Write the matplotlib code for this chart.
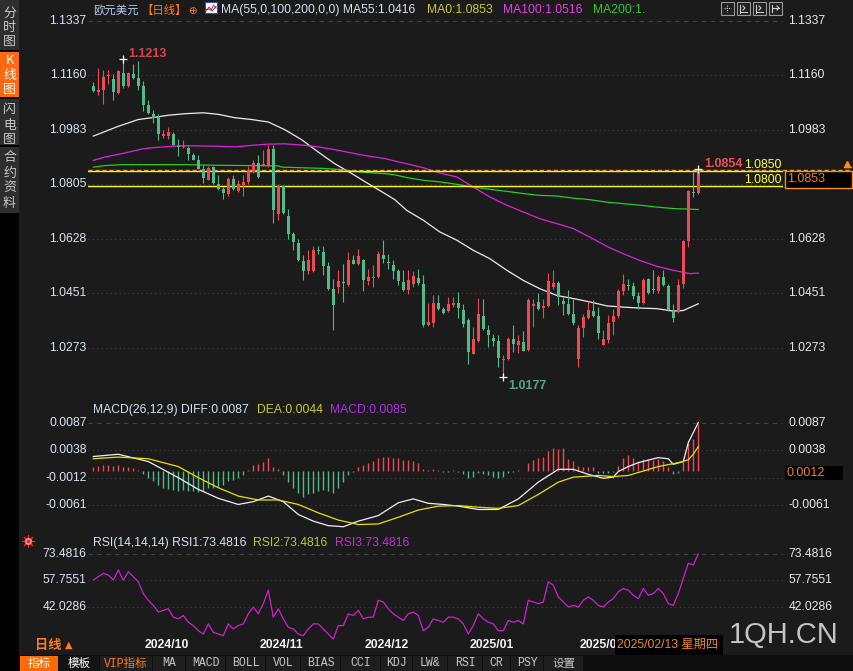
import numpy as np
import matplotlib.pyplot as plt
from matplotlib.patches import Rectangle

plt.rcParams['font.family'] = ['Liberation Sans', 'Noto Sans CJK SC', 'DejaVu Sans']

W, H = 854, 671
BG = '#1b1b1b'
RED = '#ee4a55'
GREEN = '#52b98a'

# ---- daily candles (EUR/USD) ----
opens = [1.1124, 1.1106, 1.1111, 1.1157, 1.1149, 1.1104, 1.1169, 1.1125, 1.1165, 1.1151,
         1.1124, 1.1062, 1.1035, 1.1024, 1.0962, 1.0961, 1.0968, 1.0931, 1.0927, 1.0923,
         1.0902, 1.0883, 1.0854, 1.0820, 1.0861, 1.0807, 1.0789, 1.0772, 1.0822, 1.0783,
         1.0802, 1.0813, 1.0845, 1.0874, 1.0866, 1.0866, 1.0919, 1.0709, 1.0798, 1.0701,
         1.0642, 1.0614, 1.0554, 1.0523, 1.0523, 1.0590, 1.0585, 1.0538, 1.0465, 1.0471,
         1.0487, 1.0476, 1.0557, 1.0544, 1.0560, 1.0490, 1.0501, 1.0503, 1.0576, 1.0552,
         1.0543, 1.0522, 1.0487, 1.0460, 1.0479, 1.0501, 1.0481, 1.0346, 1.0353, 1.0419,
         1.0398, 1.0392, 1.0411, 1.0419, 1.0395, 1.0362, 1.0253, 1.0295, 1.0375, 1.0329,
         1.0305, 1.0294, 1.0234, 1.0237, 1.0300, 1.0281, 1.0291, 1.0266, 1.0409, 1.0422,
         1.0403, 1.0409, 1.0471, 1.0485, 1.0424, 1.0414, 1.0381, 1.0235, 1.0338, 1.0371,
         1.0391, 1.0375, 1.0283, 1.0297, 1.0357, 1.0375, 1.0457, 1.0478, 1.0474, 1.0440,
         1.0418, 1.0495, 1.0463, 1.0457, 1.0503, 1.0473, 1.0389, 1.0389, 1.0479, 1.0619,
         1.0780, 1.0777]
highs = [1.1138, 1.1185, 1.1176, 1.1178, 1.1165, 1.1176, 1.1213, 1.1171, 1.1198, 1.1206,
         1.1140, 1.1079, 1.1046, 1.1035, 1.0983, 1.0992, 1.0975, 1.0952, 1.0948, 1.0929,
         1.0908, 1.0899, 1.0867, 1.0864, 1.0864, 1.0834, 1.0796, 1.0829, 1.0836, 1.0818,
         1.0834, 1.0864, 1.0883, 1.0902, 1.0916, 1.0932, 1.0932, 1.0807, 1.0802, 1.0726,
         1.0650, 1.0628, 1.0574, 1.0590, 1.0603, 1.0603, 1.0603, 1.0552, 1.0498, 1.0525,
         1.0544, 1.0585, 1.0574, 1.0593, 1.0563, 1.0530, 1.0541, 1.0588, 1.0625, 1.0579,
         1.0557, 1.0530, 1.0527, 1.0525, 1.0523, 1.0530, 1.0509, 1.0418, 1.0443, 1.0443,
         1.0405, 1.0438, 1.0438, 1.0454, 1.0416, 1.0370, 1.0340, 1.0436, 1.0433, 1.0346,
         1.0318, 1.0313, 1.0248, 1.0308, 1.0348, 1.0315, 1.0326, 1.0436, 1.0433, 1.0452,
         1.0433, 1.0517, 1.0527, 1.0489, 1.0438, 1.0462, 1.0433, 1.0346, 1.0381, 1.0424,
         1.0427, 1.0405, 1.0329, 1.0378, 1.0400, 1.0465, 1.0512, 1.0498, 1.0487, 1.0454,
         1.0500, 1.0500, 1.0525, 1.0511, 1.0525, 1.0481, 1.0416, 1.0498, 1.0625, 1.0788,
         1.0845, 1.0854]
lows = [1.1107, 1.1095, 1.1068, 1.1133, 1.1079, 1.1100, 1.1120, 1.1122, 1.1149, 1.1111,
        1.1043, 1.1033, 1.1005, 1.0950, 1.0956, 1.0952, 1.0932, 1.0897, 1.0923, 1.0885,
        1.0883, 1.0854, 1.0809, 1.0818, 1.0807, 1.0788, 1.0757, 1.0766, 1.0788, 1.0780,
        1.0767, 1.0807, 1.0842, 1.0827, 1.0864, 1.0861, 1.0679, 1.0690, 1.0709, 1.0628,
        1.0590, 1.0555, 1.0492, 1.0514, 1.0519, 1.0579, 1.0509, 1.0460, 1.0329, 1.0452,
        1.0422, 1.0473, 1.0544, 1.0541, 1.0457, 1.0476, 1.0471, 1.0501, 1.0549, 1.0530,
        1.0498, 1.0476, 1.0457, 1.0449, 1.0471, 1.0476, 1.0340, 1.0342, 1.0340, 1.0395,
        1.0381, 1.0389, 1.0405, 1.0371, 1.0340, 1.0221, 1.0251, 1.0291, 1.0332, 1.0275,
        1.0277, 1.0210, 1.0177, 1.0234, 1.0259, 1.0257, 1.0261, 1.0262, 1.0340, 1.0397,
        1.0370, 1.0405, 1.0465, 1.0411, 1.0378, 1.0378, 1.0346, 1.0210, 1.0308, 1.0367,
        1.0373, 1.0300, 1.0281, 1.0288, 1.0313, 1.0371, 1.0443, 1.0460, 1.0433, 1.0400,
        1.0416, 1.0449, 1.0452, 1.0452, 1.0473, 1.0392, 1.0357, 1.0386, 1.0468, 1.0601,
        1.0764, 1.0775]
closes = [1.1109, 1.1111, 1.1155, 1.1160, 1.1106, 1.1173, 1.1125, 1.1169, 1.1151, 1.1126,
          1.1064, 1.1037, 1.1022, 1.0970, 1.0968, 1.0974, 1.0934, 1.0927, 1.0931, 1.0905,
          1.0885, 1.0856, 1.0826, 1.0859, 1.0809, 1.0790, 1.0777, 1.0822, 1.0790, 1.0805,
          1.0813, 1.0851, 1.0876, 1.0829, 1.0872, 1.0921, 1.0722, 1.0798, 1.0712, 1.0644,
          1.0617, 1.0557, 1.0523, 1.0560, 1.0590, 1.0587, 1.0538, 1.0465, 1.0411, 1.0490,
          1.0484, 1.0557, 1.0547, 1.0570, 1.0492, 1.0503, 1.0503, 1.0579, 1.0561, 1.0549,
          1.0523, 1.0490, 1.0460, 1.0494, 1.0505, 1.0484, 1.0346, 1.0357, 1.0419, 1.0398,
          1.0387, 1.0414, 1.0418, 1.0402, 1.0349, 1.0259, 1.0302, 1.0381, 1.0335, 1.0313,
          1.0295, 1.0240, 1.0237, 1.0300, 1.0284, 1.0294, 1.0262, 1.0427, 1.0416, 1.0400,
          1.0409, 1.0490, 1.0485, 1.0438, 1.0414, 1.0381, 1.0353, 1.0337, 1.0373, 1.0395,
          1.0375, 1.0321, 1.0300, 1.0354, 1.0375, 1.0457, 1.0481, 1.0474, 1.0441, 1.0418,
          1.0494, 1.0452, 1.0460, 1.0503, 1.0476, 1.0397, 1.0371, 1.0476, 1.0619, 1.0782,
          1.0777, 1.0853]

# ---- moving averages (read at key candles) ----
ma55_idx = [0, 5, 9, 11.7, 15, 18.3, 22, 25, 28.3, 31.7, 35, 38.3, 41.7, 45, 48.3, 51.7, 55,
            58.3, 60.3, 62.7, 66, 69.3, 72.7, 76, 79.3, 82.7, 86, 89.3, 92.7, 96, 99.3,
            102.7, 106, 109.3, 112.7, 116, 118, 121]
ma55_val = [1.0962, 1.0994, 1.1016, 1.1022, 1.1030, 1.1035, 1.1038, 1.1033, 1.1022, 1.1016,
            1.1008, 1.0983, 1.0950, 1.0910, 1.0872, 1.0840, 1.0807, 1.0775, 1.0755, 1.0720,
            1.0688, 1.0650, 1.0623, 1.0590, 1.0563, 1.0525, 1.0492, 1.0465, 1.0443, 1.0433,
            1.0422, 1.0409, 1.0405, 1.0402, 1.0400, 1.0392, 1.0394, 1.0416]
ma100_idx = [0, 2.3, 6.3, 9.7, 11.7, 15.7, 18.3, 25, 28.3, 31.7, 35, 38.3, 41.7, 45, 48.3,
             51.7, 55, 58.3, 60.3, 62.7, 66, 69.3, 72.7, 76, 79.3, 82.7, 86, 89.3, 92.7, 96,
             99.3, 102.7, 106, 109.3, 112.7, 116, 119.3, 121]
ma100_val = [1.0883, 1.0894, 1.0907, 1.0920, 1.0924, 1.0929, 1.0931, 1.0929, 1.0927, 1.0932,
             1.0936, 1.0937, 1.0933, 1.0927, 1.0918, 1.0907, 1.0897, 1.0889, 1.0881, 1.0872,
             1.0859, 1.0842, 1.0829, 1.0796, 1.0764, 1.0737, 1.0715, 1.0693, 1.0677, 1.0661,
             1.0633, 1.0603, 1.0579, 1.0557, 1.0538, 1.0525, 1.0514, 1.0516]
ma200_idx = [0, 2.3, 5.7, 18.3, 25, 31.7, 37, 37.7, 41.7, 45.7, 49.7, 51.7, 55, 58.3, 60.3,
             62.7, 66, 69.3, 72.7, 76, 79.3, 82.7, 86, 89.3, 92.7, 96, 99.3, 102.7, 106,
             109.3, 112.7, 116, 121]
ma200_val = [1.0861, 1.0866, 1.0869, 1.0869, 1.0867, 1.0866, 1.0865, 1.0861, 1.0859, 1.0857,
             1.0853, 1.0848, 1.0843, 1.0840, 1.0836, 1.0827, 1.0818, 1.0813, 1.0805, 1.0796,
             1.0789, 1.0782, 1.0775, 1.0769, 1.0767, 1.0760, 1.0755, 1.0747, 1.0742, 1.0737,
             1.0731, 1.0726, 1.0723]

price_ticks = [1.1337, 1.1160, 1.0983, 1.0805, 1.0628, 1.0451, 1.0273]
level_lines = [1.0850, 1.0800]

# ---- MACD(26,12,9) ----
diff_idx = [0, 5, 11, 17, 21, 25, 29, 32, 35, 38, 41, 44, 47, 50, 53, 57, 61, 64, 67, 70, 73,
            77, 81, 85, 89, 93, 96, 99, 102, 104, 105, 107, 109, 113, 115, 116, 118, 119, 121]
diff_val = [0.0026, 0.0030, 0.0017, -0.0012, -0.0033, -0.0049, -0.0060, -0.0055, -0.0045,
            -0.0055, -0.0078, -0.0090, -0.0098, -0.0100, -0.0090, -0.0080, -0.0057, -0.0050,
            -0.0058, -0.0060, -0.0063, -0.0069, -0.0069, -0.0050, -0.0020, 0.0003, 0.0003,
            -0.0006, -0.0013, -0.0011, -0.0001, 0.0008, 0.0015, 0.0024, 0.0022, 0.0012,
            0.0017, 0.0051, 0.0087]
dea_idx = [0, 5, 11, 17, 21, 25, 29, 33, 37, 41, 45, 49, 53, 57, 61, 65, 69, 73, 77, 81, 85,
           89, 93, 96, 101, 104, 107, 110, 113, 117, 119, 120, 121]
dea_val = [0.0022, 0.0025, 0.0022, 0.0008, -0.0012, -0.0030, -0.0045, -0.0052, -0.0052,
           -0.0060, -0.0075, -0.0088, -0.0096, -0.0095, -0.0083, -0.0070, -0.0063, -0.0062,
           -0.0065, -0.0067, -0.0062, -0.0042, -0.0020, -0.0011, -0.0008, -0.0010, -0.0008,
           0.0000, 0.0008, 0.0015, 0.0020, 0.0030, 0.0044]
macd_hist = [0.0008, 0.0009, 0.0010, 0.0010, 0.0009, 0.0010, 0.0008, 0.0007, 0.0005, 0.0002,
             -0.0006, -0.0012, -0.0018, -0.0026, -0.0030, -0.0032, -0.0034, -0.0036, -0.0034, -0.0035,
             -0.0036, -0.0038, -0.0036, -0.0030, -0.0030, -0.0028, -0.0026, -0.0018, -0.0016, -0.0012,
             -0.0008, 0.0002, 0.0010, 0.0012, 0.0016, 0.0024, 0.0008, 0.0004, -0.0008, -0.0020,
             -0.0030, -0.0040, -0.0046, -0.0042, -0.0040, -0.0036, -0.0034, -0.0036, -0.0040, -0.0030,
             -0.0020, -0.0008, -0.0002, 0.0008, 0.0010, 0.0014, 0.0018, 0.0024, 0.0026, 0.0026,
             0.0024, 0.0024, 0.0020, 0.0020, 0.0018, 0.0014, 0.0004, 0.0002, 0.0004, 0.0002,
             -0.0002, -0.0001, 0.0001, -0.0002, -0.0006, -0.0012, -0.0010, -0.0004, -0.0006, -0.0008,
             -0.0010, -0.0012, -0.0010, -0.0004, -0.0002, 0.0002, 0.0000, 0.0014, 0.0020, 0.0024,
             0.0026, 0.0036, 0.0042, 0.0040, 0.0042, 0.0021, 0.0018, 0.0009, 0.0007, 0.0007,
             0.0007, -0.0003, -0.0004, -0.0003, -0.0001, 0.0009, 0.0023, 0.0029, 0.0024, 0.0018,
             0.0021, 0.0021, 0.0020, 0.0021, 0.0018, 0.0007, -0.0005, -0.0003, 0.0018, 0.0051,
             0.0057, 0.0084]
macd_ticks = [0.0087, 0.0038, -0.0012, -0.0061]

# ---- RSI(14) ----
rsi = [58, 60, 62, 61, 58, 64, 58, 63, 60, 57,
       50, 46, 43, 39, 40, 41, 36, 35, 37, 33,
       31, 28, 26, 32, 27, 26, 25, 32, 29, 31,
       32, 38, 42, 38, 44, 52, 36, 41, 35, 30,
       29, 26, 25, 29, 32, 32, 29, 26, 23, 31,
       31, 38, 37, 40, 35, 36, 36, 46, 45, 41,
       38, 36, 34, 38, 39, 37, 28, 30, 35, 34,
       33, 36, 36, 35, 32, 26, 31, 38, 35, 33,
       32, 28, 28, 34, 33, 34, 32, 46, 45, 44,
       45, 57, 55, 48, 45, 42, 43, 42, 46, 48,
       46, 43, 42, 45, 47, 51, 53, 52, 49, 47,
       53, 49, 50, 53, 50, 44, 43, 50, 59, 68,
       67, 73.4816]
rsi_ticks = [73.4816, 57.7551, 42.0286]

month_labels = ['2024/10', '2024/11', '2024/12', '2025/01', '2025/0']
month_start_idx = [10, 33, 54, 75, 97]

# ---------------------------------------------------------------
fig = plt.figure(figsize=(W / 100, H / 100), dpi=100, facecolor=BG)


def panel(top, bottom):
    ax = fig.add_axes([88 / W, 1 - bottom / H, (783 - 88) / W, (bottom - top) / H], zorder=2)
    ax.set_facecolor('none')
    ax.set_axis_off()
    ax.set_xlim((88 - 93.3) / 5, (783 - 93.3) / 5)
    return ax


def axis_labels(ax, ticks, hidden_right=()):
    # right-hand label under the current-value box is covered in the original
    for k, t in enumerate(ticks):
        ls = (0, (4, 4)) if k == 0 else (0, (1, 3))
        ax.axhline(t, color='#424242', lw=0.8, ls=ls, zorder=0)
        ax.text(-0.002, t, f'{t:.4f}', transform=ax.get_yaxis_transform(), ha='right',
                va='center', fontsize=8.7, color='#dbe4f0')
        if t not in hidden_right:
            ax.text(1.0075, t, f'{t:.4f}', transform=ax.get_yaxis_transform(), ha='left',
                    va='center', fontsize=8.7, color='#e8e8e8', clip_on=False)


# price panel
ax_p = panel(15, 395)
ax_p.set_ylim(1.1337 - (395 - 21) / 3070, 1.1337 - (15 - 21) / 3070)
axis_labels(ax_p, price_ticks, hidden_right=(1.0805,))
x = np.arange(len(closes))
o, h, l, c = map(np.array, (opens, highs, lows, closes))
cols = np.where(c >= o, RED, GREEN)
ax_p.vlines(x, l, h, colors=cols, lw=0.8, zorder=3)
ax_p.bar(x, np.maximum(np.abs(c - o), 0.00035), bottom=np.minimum(o, c), width=0.62,
         color=cols, lw=0, zorder=3)
ax_p.plot(ma55_idx, ma55_val, color='#ececec', lw=0.9, zorder=2)
ax_p.plot(ma100_idx, ma100_val, color='#e020e0', lw=0.9, zorder=2)
ax_p.plot(ma200_idx, ma200_val, color='#22d022', lw=0.9, zorder=2)
for lv in level_lines:
    ax_p.axhline(lv, color='#ffff00', lw=1.0, zorder=2)
    ax_p.text(0.9985, lv + 0.0008, f'{lv:.4f}', transform=ax_p.get_yaxis_transform(),
              ha='right', va='baseline', fontsize=8.7, color='#ffff30')
ax_p.plot([0, (852 - 88) / 695], [c[-1], c[-1]], transform=ax_p.get_yaxis_transform(),
          color='#f0a030', lw=1.0, ls=(0, (3, 2)), clip_on=False, zorder=2)

i_hi = int(np.argmax(h[:20]))
i_lo = int(np.argmin(l))
for i in (i_hi, i_lo, len(h) - 1):
    v = h[i] if i != i_lo else l[i]
    ax_p.plot(i, v, marker='+', ms=6, mew=0.9, color='white', zorder=4)
ax_p.text(i_hi + 1, h[i_hi] + 0.0007, f'{h[i_hi]:.4f}', color='#d8444c', fontsize=9,
          fontweight='bold', ha='left', va='baseline')
ax_p.text(i_lo + 1, l[i_lo] - 0.0008, f'{l[i_lo]:.4f}', color='#52a888', fontsize=9,
          fontweight='bold', ha='left', va='top')
ax_p.text(len(h) + 0.2, h[-1] + 0.0007, f'{h[-1]:.4f}', color='#e8505a', fontsize=9,
          fontweight='bold', ha='left', va='baseline')

# MACD panel
ax_m = panel(400, 535)
ax_m.set_ylim((471.0 - 535) / 5574, (471.0 - 400) / 5574)
axis_labels(ax_m, macd_ticks, hidden_right=(-0.0012,))
mh = np.array(macd_hist)
ax_m.vlines(x, 0, mh, colors=np.where(mh >= 0, RED, GREEN), lw=1.0, zorder=2)
ax_m.plot(diff_idx, diff_val, color='#f0f0f0', lw=0.9, zorder=3)
ax_m.plot(dea_idx, dea_val, color='#e8e000', lw=0.9, zorder=3)

# RSI panel
ax_r = panel(545, 640)
ax_r.set_ylim(73.4816 - (640 - 554) / 1.685, 73.4816 - (545 - 554) / 1.685)
axis_labels(ax_r, rsi_ticks)
ax_r.plot(x, rsi, color='#d020d0', lw=0.9, zorder=3)
for lab, idx in zip(month_labels, month_start_idx):
    ax_r.text(idx + 0.3, -0.053, lab, transform=ax_r.get_xaxis_transform(), ha='left',
              va='center', fontsize=8.8, fontweight='bold', color='#f4f4f4', clip_on=False)

# ---- overlay: header, sidebar, boxes, toolbar ----
ov = fig.add_axes([0, 0, 1, 1], zorder=10)
ov.set_xlim(0, W)
ov.set_ylim(H, 0)
ov.set_axis_off()
ov.set_facecolor('none')

def t(xp, yp, s, col, fs=8.7, **kw):
    ov.text(xp, yp, s, color=col, fontsize=fs, va='center', **kw)

# header
t(93, 10, '欧元美元', '#b4cdee', 8.2)
t(141, 10, '【日线】', '#ff7a1a', 8.2)
t(188, 11, '⊕', '#ff7a1a', 7.5, family=['DejaVu Sans'])
ov.add_patch(Rectangle((205, 2), 12, 11, facecolor='white', edgecolor='#3050c0', lw=0.8))
ov.plot([206.5, 209, 211.5, 213.5, 216], [11, 7, 9.5, 5, 8], color='#e03030', lw=0.7)
ov.plot([206.5, 209.5, 212, 216], [9.5, 9, 11, 6.5], color='#3040d0', lw=0.7)
t(221, 10, 'MA(55,0,100,200,0,0) MA55:1.0416', '#d6e0f0')
t(427, 10, 'MA0:1.0853', '#c8c83c')
t(503, 10, 'MA100:1.0516', '#e040e0')
t(593, 10, 'MA200:1.', '#30c830')
for k, x0 in enumerate([721, 737, 753, 769]):
    ov.add_patch(Rectangle((x0, 2), 13, 12.5, facecolor='#202020', edgecolor='#9a9a9a', lw=0.8))
ov.plot([724, 731], [8.2, 8.2], color='#cfcfcf', lw=0.8, ls=(0, (1, 1)))
ov.plot([727.5, 727.5], [4.5, 12], color='#cfcfcf', lw=0.8, ls=(0, (1, 1)))
for x0 in (737, 753):
    ov.plot([x0 + 3, x0 + 3], [4.5, 12.5], color='#cfcfcf', lw=0.8)
    ov.plot([x0 + 3, x0 + 10], [12, 12], color='#cfcfcf', lw=0.8)
ov.plot([743, 745, 743], [6, 8, 10], color='#cfcfcf', lw=0.8)
ov.plot([759, 761, 759], [6, 8, 10], color='#cfcfcf', lw=0.8)
ov.plot([772, 772], [4.5, 12], color='#cfcfcf', lw=0.8)
ov.plot([772, 779], [8, 8], color='#cfcfcf', lw=0.8)
ov.plot([777, 779, 777], [6, 8, 10], color='#cfcfcf', lw=0.8)

# right-side current-value boxes
ov.add_patch(Rectangle((785, 171), 67, 17, facecolor='black', edgecolor='#ff8c1a', lw=1.0))
t(787, 179.5, f'{closes[-1]:.4f}', '#ec8420', 9)
ov.plot(847, 163.5, marker='^', ms=4.5, color='#ff8c1a')
ov.plot([844, 851], [167, 167], color='#ff8c1a', lw=1)
ov.add_patch(Rectangle((785, 466), 58, 14, facecolor='black', edgecolor='none'))
t(787, 473, '0.0012', '#ec8420', 9)

# panel titles
t(93, 410, 'MACD(26,12,9) DIFF:0.0087', '#d6e0f0')
t(257, 410, 'DEA:0.0044', '#c8c832')
t(330, 410, 'MACD:0.0085', '#b030e8')
t(93, 543, 'RSI(14,14,14) RSI1:73.4816', '#d6e0f0')
t(253, 543, 'RSI2:73.4816', '#b4c832')
t(335, 543, 'RSI3:73.4816', '#c032d0')
ov.plot(28.5, 540.5, marker=(8, 2, 0), ms=9, color='#ff2020', mew=0.8)
ov.plot(28.5, 540.5, marker='o', ms=5, mfc='white', mec='#ff2020', mew=0.6)
ov.plot(28.5, 540.5, marker='o', ms=2.2, color='#ff2020')

# sidebar
ov.add_patch(Rectangle((0, 0), 19.5, H, facecolor='black', edgecolor='none'))
side = [(0, 50, '分时图', [13.5, 27.5, 41.5], '#2e2e2e', '#c8c8c8'),
        (51.5, 97, 'K线图', [61, 75, 89], '#ff6a10', 'white'),
        (99, 145, '闪电图', [109, 125, 139], '#2e2e2e', '#c8c8c8'),
        (147, 213, '合约资料', [157, 173, 188, 203], '#2e2e2e', '#c8c8c8')]
for y0, y1, txt, ys, bg, fg in side:
    ov.add_patch(Rectangle((0, y0), 19.5, y1 - y0, facecolor=bg, edgecolor='none'))
    for ch, yy in zip(txt, ys):
        ov.text(9.5, yy, ch, color=fg, fontsize=9.3, ha='center', va='center',
                family=['Noto Sans CJK SC'])

# bottom date row
t(35, 645, '日线', '#ff7a1a', 9.5, fontweight='bold', family=['Noto Sans CJK SC'])
t(65, 645, '▲', '#ff7a1a', 7, family=['DejaVu Sans'])
ov.add_patch(Rectangle((615, 635), 108, 20, facecolor='black', edgecolor='none'))
t(617, 645, '2025/02/13 星期四', '#f08a20', 8.8)
ov.text(784, 635, '1QH.CN', color='#c4c4c4', fontsize=21, ha='center', va='center')

# toolbar
cells = [(20, 58, '指标', '#ff6a00', 'white'), (59.5, 99, '模板', '#141414', 'white'),
         (100.5, 152, 'VIP指标', '#1e1e1e', '#ff7a1a'), (153.5, 185, 'MA', '#1e1e1e', '#c8c8c8'),
         (186.5, 225, 'MACD', '#1e1e1e', '#c8c8c8'), (226.5, 265, 'BOLL', '#1e1e1e', '#c8c8c8'),
         (266.5, 300, 'VOL', '#1e1e1e', '#c8c8c8'), (301.5, 340, 'BIAS', '#1e1e1e', '#c8c8c8'),
         (341.5, 380, 'CCI', '#1e1e1e', '#c8c8c8'), (381.5, 412, 'KDJ', '#1e1e1e', '#c8c8c8'),
         (413.5, 447, 'LW&', '#1e1e1e', '#c8c8c8'), (448.5, 482, 'RSI', '#1e1e1e', '#c8c8c8'),
         (483.5, 510, 'CR', '#1e1e1e', '#c8c8c8'), (511.5, 543, 'PSY', '#1e1e1e', '#c8c8c8'),
         (544.5, 583, '设置', '#1e1e1e', '#c8c8c8')]
ov.add_patch(Rectangle((19.5, 655), W - 19.5, 16, facecolor='#0e0e0e', edgecolor='none'))
for x0, x1, txt, bg, fg in cells:
    ov.add_patch(Rectangle((x0, 655.5), x1 - x0, 15.5, facecolor=bg, edgecolor='none'))
    ov.text((x0 + x1) / 2, 663.5, txt, color=fg, fontsize=8.3, ha='center', va='center',
            family=['Liberation Mono', 'Noto Sans CJK SC'])

fig.savefig('out.png', dpi=100, facecolor=BG)
